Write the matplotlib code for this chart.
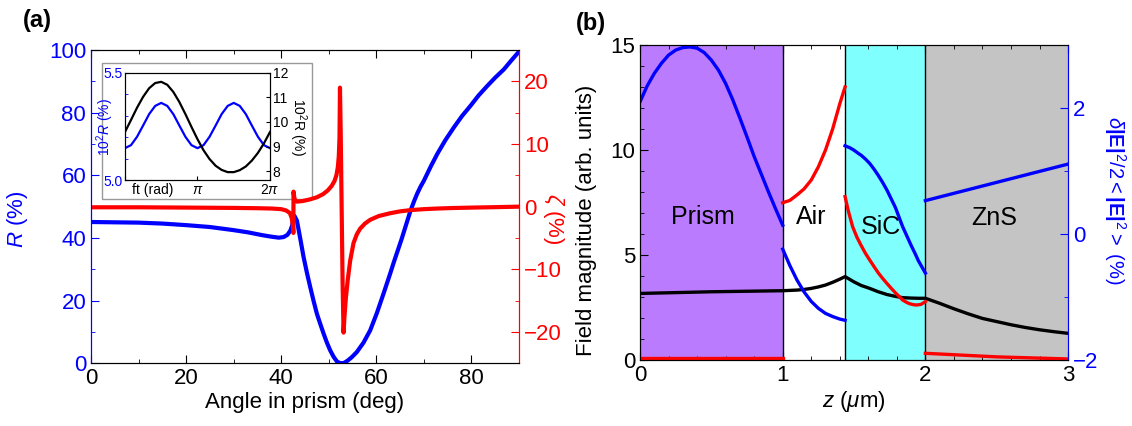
import numpy as np
import matplotlib
matplotlib.use("Agg")
import matplotlib.pyplot as plt
from matplotlib.patches import Rectangle
from matplotlib.ticker import MultipleLocator

plt.rcParams['font.family'] = ['Liberation Sans', 'DejaVu Sans']
plt.rcParams['mathtext.fontset'] = 'custom'
plt.rcParams['mathtext.rm'] = 'Liberation Sans'
plt.rcParams['mathtext.it'] = 'Liberation Sans:italic'
plt.rcParams['mathtext.bf'] = 'Liberation Sans:bold'

# ---- panel (a): reflectance R and zeta vs angle in prism
angle_R = [0, 5, 10, 15, 20, 25, 30, 33, 36, 38, 39.5, 40.5, 41.3, 41.9, 42.3, 42.6,
           42.8, 43.3, 44.0, 44.7, 45.4, 46.1, 46.8, 47.5, 48.2, 48.9, 49.6, 50.3,
           51.0, 51.7, 52.3, 52.8, 53.3, 54.0, 54.8, 55.9, 57.3, 58.7, 60.1, 61.5,
           62.2, 62.9, 63.7, 64.5, 65.3, 66.0, 66.6, 67.2, 68.0, 68.6, 69.3, 70.0,
           71.4, 72.8, 74.5, 76.3, 78.0, 79.8, 81.5, 83.3, 85.0, 86.8, 88.4, 90]
R = [45.1, 45.0, 44.9, 44.6, 44.1, 43.5, 42.5, 41.8, 40.9, 40.4, 40.1, 40.3, 41.0,
     42.3, 44.0, 46.5, 47.0, 45.5, 39.8, 33.9, 28.9, 24.3, 19.9, 15.8, 12.6, 9.5,
     6.6, 4.1, 2.1, 0.6, 0.1, 0.0, 0.2, 0.9, 1.9, 3.6, 6.6, 10.5, 16.0, 22.2,
     25.4, 28.6, 32.4, 36.0, 39.6, 43.0, 45.9, 48.8, 52.0, 54.2, 56.4, 58.3,
     62.7, 66.8, 71.2, 75.3, 78.9, 82.2, 85.5, 88.5, 91.2, 93.8, 96.7, 99.5]

angle_zeta = [0, 10, 20, 30, 35, 38, 40, 41, 41.8, 42.2, 42.45, 42.55, 42.58, 42.65,
              42.8, 43.3, 44.5, 46.0, 47.5, 48.8, 49.8, 50.6, 51.2, 51.6, 51.9, 52.1,
              52.25, 52.35, 52.5, 52.7, 52.9, 53.1, 53.3, 53.6, 54.0, 54.5, 55.2, 55.9,
              56.6, 57.6, 58.7, 60.5, 62.9, 65.0, 67.2, 70.0, 72.8, 76, 80, 85, 90]
zeta = [-0.1, -0.1, -0.15, -0.2, -0.25, -0.3, -0.4, -0.6, -1.0, -1.8, -3.0, -4.2, 2.4,
        2.0, 1.2, 0.8, 0.9, 1.15, 1.5, 2.0, 2.6, 3.3, 4.1, 5.0, 6.3, 8.0, 11.0, 19.0,
        12.0, 0.0, -12.0, -20.1, -17.5, -14.5, -11.6, -8.6, -5.8, -4.4, -3.5, -2.7,
        -2.1, -1.5, -1.05, -0.75, -0.55, -0.4, -0.3, -0.22, -0.15, -0.08, 0.0]

# inset: values at ft = k*pi/12, k = 0..24
ft_steps = list(range(25))
inset_blue = [5.150, 5.164, 5.203, 5.255, 5.308, 5.346, 5.360, 5.346, 5.308, 5.255,
              5.203, 5.164, 5.150, 5.164, 5.203, 5.255, 5.308, 5.346, 5.360, 5.346,
              5.308, 5.255, 5.203, 5.164, 5.150]
inset_black = [9.59, 10.08, 10.58, 11.02, 11.37, 11.58, 11.63, 11.51, 11.22, 10.81,
               10.32, 9.80, 9.30, 8.85, 8.49, 8.22, 8.05, 7.96, 7.96, 8.04, 8.19,
               8.43, 8.74, 9.13, 9.59]

# ---- panel (b): field profiles across the layers
layer_names = ['Prism', 'Air', 'SiC', 'ZnS']
layer_edges = [0, 1, 1.437, 2, 3]
layer_colors = ['#bb7bff', 'white', '#80ffff', '#c4c4c4']

z_black = [0, 0.5, 1.0, 1.1, 1.15, 1.2, 1.25, 1.3, 1.35, 1.4, 1.437, 1.47, 1.5, 1.55,
           1.61, 1.67, 1.73, 1.79, 1.84, 1.9, 1.95, 2.0, 2.1, 2.2, 2.3, 2.4, 2.5, 2.6,
           2.7, 2.8, 2.9, 3.0]
field_black = [3.17, 3.25, 3.30, 3.33, 3.36, 3.41, 3.48, 3.57, 3.70, 3.85, 3.97, 3.84,
               3.72, 3.55, 3.41, 3.25, 3.12, 3.03, 2.97, 2.95, 2.94, 2.94, 2.70, 2.44,
               2.20, 1.98, 1.83, 1.68, 1.55, 1.44, 1.35, 1.27]

z_red_prism = [0, 1.0]
red_prism = [0.1, 0.1]
z_red_air = [1.0, 1.05, 1.1, 1.15, 1.2, 1.25, 1.3, 1.35, 1.4, 1.437]
red_air = [7.49, 7.6, 7.86, 8.15, 8.57, 9.2, 10.0, 11.0, 12.2, 13.0]
z_red_sic = [1.437, 1.46, 1.49, 1.52, 1.55, 1.58, 1.61, 1.64, 1.67, 1.70, 1.73, 1.76,
             1.79, 1.82, 1.84, 1.87, 1.89, 1.92, 1.94, 1.97, 2.0]
red_sic = [7.78, 7.1, 6.35, 5.85, 5.45, 5.08, 4.76, 4.45, 4.15, 3.89, 3.65, 3.42, 3.2,
           3.0, 2.86, 2.74, 2.68, 2.63, 2.62, 2.65, 2.78]
z_red_zns = [2.0, 2.5, 3.0]
red_zns = [0.32, 0.15, 0.05]

z_blue_prism = [0, 0.05, 0.1, 0.15, 0.2, 0.25, 0.3, 0.35, 0.4, 0.45, 0.5, 0.55, 0.6,
                0.65, 0.7, 0.75, 0.8, 0.85, 0.9, 0.95, 1.0]
blue_prism = [2.10, 2.35, 2.55, 2.71, 2.84, 2.92, 2.96, 2.97, 2.95, 2.88, 2.76, 2.60,
              2.39, 2.13, 1.84, 1.54, 1.23, 0.95, 0.67, 0.40, 0.14]
z_blue_air = [1.0, 1.05, 1.1, 1.15, 1.2, 1.25, 1.3, 1.35, 1.4, 1.437]
blue_air = [-0.24, -0.50, -0.73, -0.92, -1.07, -1.18, -1.26, -1.31, -1.35, -1.37]
z_blue_sic = [1.437, 1.47, 1.5, 1.53, 1.55, 1.58, 1.61, 1.64, 1.67, 1.70, 1.73, 1.76,
              1.79, 1.82, 1.84, 1.87, 1.9, 1.93, 1.95, 1.98, 2.0]
blue_sic = [1.40, 1.37, 1.33, 1.28, 1.25, 1.19, 1.12, 1.03, 0.93, 0.82, 0.70, 0.56,
            0.42, 0.24, 0.12, -0.03, -0.18, -0.32, -0.42, -0.54, -0.62]
z_blue_zns = [2.0, 3.0]
blue_zns = [0.53, 1.11]

fs = 16
fs_in = 10
fig = plt.figure(figsize=(11.32, 4.26), dpi=100)

# ================= panel (a)
ax1 = fig.add_axes([0.0804, 0.1472, 0.3781, 0.7354])
ax1.plot(angle_R, R, color='blue', lw=3, zorder=3)
ax1.set_xlim(0, 90)
ax1.set_ylim(0, 100)
ax1.xaxis.set_major_locator(MultipleLocator(20))
ax1.xaxis.set_minor_locator(MultipleLocator(10))
ax1.yaxis.set_major_locator(MultipleLocator(20))
ax1.yaxis.set_minor_locator(MultipleLocator(10))
ax1.tick_params(which='both', direction='in', top=True, labelsize=fs)
ax1.tick_params(which='major', length=6)
ax1.tick_params(which='minor', length=3)
ax1.tick_params(axis='y', colors='blue', which='both')
ax1.spines['left'].set_color('blue')
ax1.spines['right'].set_color('red')
ax1.set_xlabel('Angle in prism (deg)', fontsize=fs, labelpad=2)
ax1.set_ylabel(r'$R$ (%)', fontsize=fs, color='blue')
ax1.yaxis.set_label_coords(-0.143, 0.46)

# inset frame
ax1.add_patch(Rectangle((0.0898, 0.5329), 0.1855, 0.3199, transform=fig.transFigure,
                        facecolor='white', edgecolor='#999999', lw=1, zorder=2.5,
                        clip_on=False))

ax1r = ax1.twinx()
ax1r.plot(angle_zeta, zeta, color='red', lw=3)
ax1r.set_ylim(-25, 25)
ax1r.yaxis.set_major_locator(MultipleLocator(10))
ax1r.yaxis.set_minor_locator(MultipleLocator(5))
ax1r.tick_params(which='both', direction='in', colors='red', labelsize=fs)
ax1r.tick_params(which='major', length=6)
ax1r.tick_params(which='minor', length=3)
ax1r.spines['right'].set_color('red')
ax1r.spines['left'].set_color('blue')
ax1r.set_ylabel(r'$\zeta$ (%)', fontsize=fs, color='red', rotation=270, va='center')
ax1r.yaxis.set_label_coords(1.08, 0.46)

# inset
axin = fig.add_axes([0.1104, 0.5763, 0.1281, 0.2530])
axin.plot(np.array(ft_steps) * np.pi / 12, inset_blue, color='blue', lw=1.6)
axin.set_xlim(0, 2 * np.pi)
axin.set_ylim(5.0, 5.5)
axin.set_xticks([0, np.pi, 2 * np.pi])
axin.set_xticklabels(['', r'$\pi$', r'$2\pi$'])
axin.set_yticks([5.0, 5.5])
axin.set_yticklabels(['5.0', '5.5'])
axin.yaxis.set_minor_locator(MultipleLocator(0.1))
axin.tick_params(which='both', direction='in', labelsize=fs_in, pad=2)
axin.tick_params(which='major', length=3)
axin.tick_params(which='minor', length=2)
axin.tick_params(axis='y', colors='blue', which='both')
axin.spines['left'].set_color('black')
axin.set_ylabel(r'10$^2$$R$ (%)', fontsize=fs_in, color='blue')
axin.yaxis.set_label_coords(-0.06, 0.5)
axin.text(0.19, -0.09, 'ft (rad)', transform=axin.transAxes, fontsize=fs_in,
          ha='center', va='center')
axin_r = axin.twinx()
axin_r.plot(np.array(ft_steps) * np.pi / 12, inset_black, color='black', lw=1.6)
axin_r.set_ylim(7.62, 12)
axin_r.yaxis.set_major_locator(MultipleLocator(1))
axin_r.tick_params(which='both', direction='in', labelsize=fs_in, length=3, pad=2)
axin_r.set_ylabel(r'10$^2$R (%)', fontsize=fs_in, rotation=270, va='center')
axin_r.yaxis.set_label_coords(1.19, 0.5)

fig.text(0.0327, 0.951, '(a)', fontsize=17, fontweight='bold', ha='center', va='center')

# ================= panel (b)
ax2 = fig.add_axes([0.5654, 0.1549, 0.3781, 0.7394])
for i in range(4):
    ax2.axvspan(layer_edges[i], layer_edges[i + 1], color=layer_colors[i], lw=0, zorder=0)
for b in layer_edges[1:-1]:
    ax2.axvline(b, color='black', lw=1, zorder=1)
label_pos = [(0.44, 6.8), (1.20, 6.8), (1.69, 6.35), (2.48, 6.75)]
for name, (x, y) in zip(layer_names, label_pos):
    ax2.text(x, y, name, fontsize=18, ha='center', va='center', zorder=2)
ax2.plot(z_black, field_black, color='black', lw=2.4, zorder=3)
for zz, vv in [(z_red_prism, red_prism), (z_red_air, red_air),
               (z_red_sic, red_sic), (z_red_zns, red_zns)]:
    ax2.plot(zz, vv, color='red', lw=2.4, zorder=3)
ax2.set_xlim(0, 3)
ax2.set_ylim(0, 15)
ax2.xaxis.set_major_locator(MultipleLocator(1))
ax2.xaxis.set_minor_locator(MultipleLocator(0.2))
ax2.yaxis.set_major_locator(MultipleLocator(5))
ax2.yaxis.set_minor_locator(MultipleLocator(1))
ax2.tick_params(which='both', direction='in', top=True, labelsize=fs)
ax2.tick_params(which='major', length=6)
ax2.tick_params(which='minor', length=3)
ax2.spines['right'].set_color('blue')
ax2.set_xlabel(r'$z$ ($\mu$m)', fontsize=fs, labelpad=2)
ax2.set_ylabel('Field magnitude (arb. units)', fontsize=fs)
ax2.yaxis.set_label_coords(-0.10, 0.444)

ax2r = ax2.twinx()
for zz, vv in [(z_blue_prism, blue_prism), (z_blue_air, blue_air),
               (z_blue_sic, blue_sic), (z_blue_zns, blue_zns)]:
    ax2r.plot(zz, vv, color='blue', lw=2.4)
ax2r.set_ylim(-2, 3)
ax2r.yaxis.set_major_locator(MultipleLocator(2))
ax2r.yaxis.set_minor_locator(MultipleLocator(1))
ax2r.tick_params(which='both', direction='in', colors='blue', labelsize=fs)
ax2r.tick_params(which='major', length=6)
ax2r.tick_params(which='minor', length=3)
ax2r.spines['right'].set_color('blue')
ax2r.set_ylabel(r'$\delta\mathbf{|E|}^2/2<\mathbf{|E|}^2>$ (%)', fontsize=14.5,
                color='blue', rotation=270, va='center')
ax2r.yaxis.set_label_coords(1.11, 0.508)

fig.text(0.522, 0.946, '(b)', fontsize=17, fontweight='bold', ha='center', va='center')

fig.savefig('out.png', dpi=100)
